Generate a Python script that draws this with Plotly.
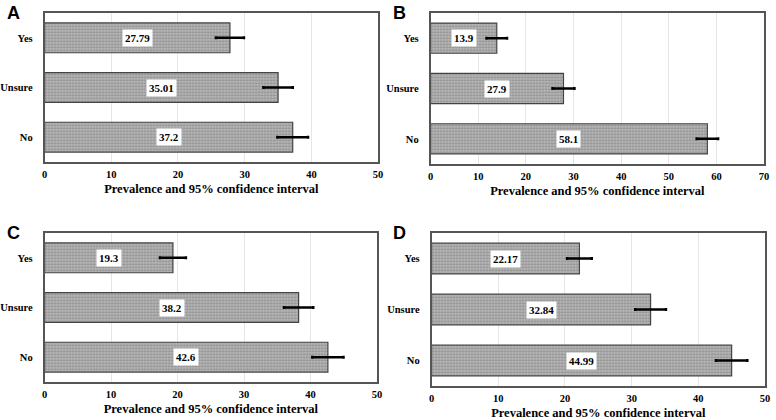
import plotly.graph_objects as go

categories = ["No", "Unsure", "Yes"]

values_a = [37.2, 35.01, 27.79]
err_a = [2.3, 2.2, 2.1]
values_b = [58.1, 27.9, 13.9]
err_b = [2.25, 2.3, 2.15]
values_c = [42.6, 38.2, 19.3]
err_c = [2.35, 2.2, 1.95]
values_d = [44.99, 32.84, 22.17]
err_d = [2.35, 2.3, 1.85]

panel_letters = ["A", "B", "C", "D"]
x_ranges = [[0, 50.001], [0, 70.001], [0, 50.001], [0, 50.001]]
x_title = "Prevalence and 95% confidence interval"

W, H = 776, 420
# pixel boxes: left, right, top, bottom
boxes = [
    (42, 379, 13, 162),
    (432, 769, 13, 164),
    (42, 378, 233, 382),
    (433, 770, 233, 386),
]
letter_pos = [(2, 1), (392, 1), (2, 221), (392, 221)]

serif = "Times New Roman, Liberation Serif, serif"
fig = go.Figure()
data_sets = [(values_a, err_a), (values_b, err_b), (values_c, err_c), (values_d, err_d)]

annotations = []
for i, (vals, errs) in enumerate(data_sets):
    sfx = "" if i == 0 else str(i + 1)
    fig.add_trace(go.Bar(
        x=vals, y=categories, orientation="h",
        xaxis="x" + sfx, yaxis="y" + sfx,
        marker=dict(
            color="#b0b0b0",
            line=dict(color="#444444", width=1.2),
            pattern=dict(shape=".", fgcolor="#666666", bgcolor="#bababa", size=3, solidity=0.45, fillmode="overlay"),
        ),
        error_x=dict(type="data", array=errs, visible=True, color="black", thickness=2.5, width=1.5),
        showlegend=False, hoverinfo="skip",
    ))
    for c, v in zip(categories, vals):
        annotations.append(dict(
            x=v / 2, y=c, xref="x" + sfx, yref="y" + sfx, text=f"{v:g}",
            showarrow=False, bgcolor="white", borderpad=2,
            font=dict(family=serif, size=11, color="black", weight="bold"),
        ))
    l, r, t, b = boxes[i]
    ax = dict(
        domain=[l / W, r / W], range=x_ranges[i], dtick=10, anchor="y" + sfx,
        showgrid=True, gridcolor="#e6e6e6", gridwidth=1,
        showline=True, mirror=True, linecolor="#555555", linewidth=1.5,
        zeroline=False, ticks="", ticklen=0, ticklabelstandoff=2,
        tickfont=dict(family=serif, size=10.5, color="black", weight="bold"),
        title=dict(text=x_title, standoff=5,
                   font=dict(family=serif, size=12.5, color="black", weight="bold")),
        fixedrange=True,
    )
    ay = dict(
        domain=[1 - b / H, 1 - t / H], anchor="x" + sfx, type="category",
        showgrid=False, showline=True, mirror=True, linecolor="#555555", linewidth=1.5,
        ticks="", ticklabelstandoff=8,
        tickfont=dict(family=serif, size=10.5, color="black", weight="bold"),
        fixedrange=True,
    )
    fig.layout["xaxis" + sfx] = ax
    fig.layout["yaxis" + sfx] = ay
    lx, ly = letter_pos[i]
    annotations.append(dict(
        x=lx / W, y=1 - ly / H, xref="paper", yref="paper", xanchor="left", yanchor="top",
        text=panel_letters[i], showarrow=False,
        font=dict(family="Liberation Sans", size=18, color="black", weight="bold"),
    ))

fig.update_layout(
    width=W, height=H, margin=dict(l=0, r=0, t=0, b=0),
    paper_bgcolor="white", plot_bgcolor="white",
    bargap=0.4, annotations=annotations,
)
fig.write_html("out.html", config={"displayModeBar": False},
               post_script="document.body.style.margin='0';document.body.style.overflow='hidden';")
